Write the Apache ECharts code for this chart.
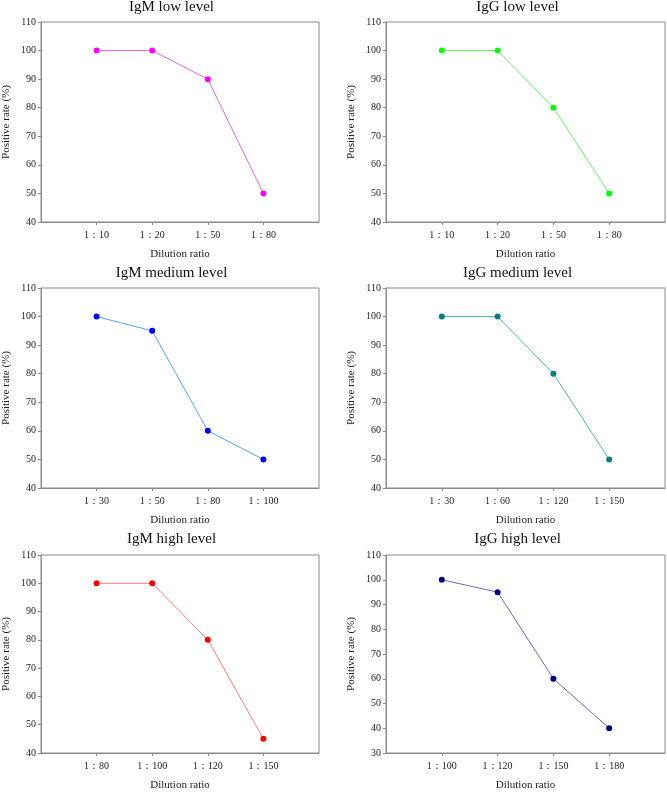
<!DOCTYPE html>
<html>
<head>
<meta charset="utf-8">
<script src="https://cdn.jsdelivr.net/npm/echarts@6/dist/echarts.min.js"></script>
<style>html,body{margin:0;padding:0;background:#fff}#c{width:667px;height:792px}</style>
</head>
<body>
<div id="c"></div>
<script>
const titles = ['IgM low level','IgG low level','IgM medium level','IgG medium level','IgM high level','IgG high level'];
const catsIgMLow = ['1：10','1：20','1：50','1：80'];
const catsIgGLow = ['1：10','1：20','1：50','1：80'];
const catsIgMMed = ['1：30','1：50','1：80','1：100'];
const catsIgGMed = ['1：30','1：60','1：120','1：150'];
const catsIgMHigh = ['1：80','1：100','1：120','1：150'];
const catsIgGHigh = ['1：100','1：120','1：150','1：180'];
const valsIgMLow = [100,100,90,50];
const valsIgGLow = [100,100,80,50];
const valsIgMMed = [100,95,60,50];
const valsIgGMed = [100,100,80,50];
const valsIgMHigh = [100,100,80,45];
const valsIgGHigh = [100,95,60,40];
const yMins = [40,40,40,40,40,30];
const yMax = 110;

const cats = [catsIgMLow,catsIgGLow,catsIgMMed,catsIgGMed,catsIgMHigh,catsIgGHigh];
const vals = [valsIgMLow,valsIgGLow,valsIgMMed,valsIgGMed,valsIgMHigh,valsIgGHigh];
const markerColors = ['#FF00FF','#00FF00','#0000FF','#008080','#FF0000','#000080'];
const lineColors = ['#E066E0','#66F066','#4DA6FF','#4DB3B3','#FF7A7A','#6A6AC8'];
const grids = [
  {left:40,top:22,width:279,height:200},
  {left:386,top:22,width:279,height:200},
  {left:40,top:288,width:279,height:200},
  {left:386,top:288,width:279,height:200},
  {left:40,top:555,width:279,height:200},
  {left:386,top:555,width:279,height:200}
];
const titleY = [0,0,266,266,532,532];
const font = '"Liberation Serif","Times New Roman",serif';
const axisColor = '#8a8a8a';

const option = {
  animation:false,
  backgroundColor:'#fff',
  title: grids.map((g,i)=>({
    text: titles[i],
    left: g.left + g.width/2 - 8,
    top: titleY[i],
    padding:0,
    textAlign:'center',
    textStyle:{fontFamily:font,fontSize:15,fontWeight:'normal',color:'#111'}
  })),
  grid: grids.map(g=>Object.assign({show:true,borderColor:axisColor,borderWidth:1,backgroundColor:'transparent'},g)),
  xAxis: grids.map((g,i)=>({
    type:'value', gridIndex:i, min:0, max:5, interval:1,
    name:'Dilution ratio', nameLocation:'middle', nameGap:27,
    nameTextStyle:{fontFamily:font,fontSize:11,color:'#222'},
    axisLine:{show:true,lineStyle:{color:axisColor,width:1}},
    axisTick:{show:true,inside:false,length:3,lineStyle:{color:axisColor},customValues:[1,2,3,4]},
    axisLabel:{fontFamily:font,fontSize:10,color:'#222',margin:8,customValues:[1,2,3,4],
      formatter:(v)=>cats[i][Math.round(v)-1]||''},
    splitLine:{show:false}
  })),
  yAxis: grids.map((g,i)=>({
    type:'value', gridIndex:i, min:yMins[i], max:yMax, interval:10,
    name:'Positive rate (%)', nameLocation:'middle', nameGap:29,
    nameTextStyle:{fontFamily:font,fontSize:11,color:'#222'},
    axisLine:{show:true,lineStyle:{color:axisColor,width:1}},
    axisTick:{show:true,inside:false,length:3,lineStyle:{color:axisColor}},
    axisLabel:{fontFamily:font,fontSize:10,color:'#222',margin:5},
    splitLine:{show:false}
  })),
  series: grids.map((g,i)=>({
    type:'line', xAxisIndex:i, yAxisIndex:i,
    data: vals[i].map((v,k)=>[k+1,v]),
    symbol:'circle', symbolSize:6,
    lineStyle:{color:lineColors[i],width:1},
    itemStyle:{color:markerColors[i]}
  }))
};
const chart = echarts.init(document.getElementById('c'),null,{renderer:'canvas'});
chart.setOption(option);
</script>
</body>
</html>
